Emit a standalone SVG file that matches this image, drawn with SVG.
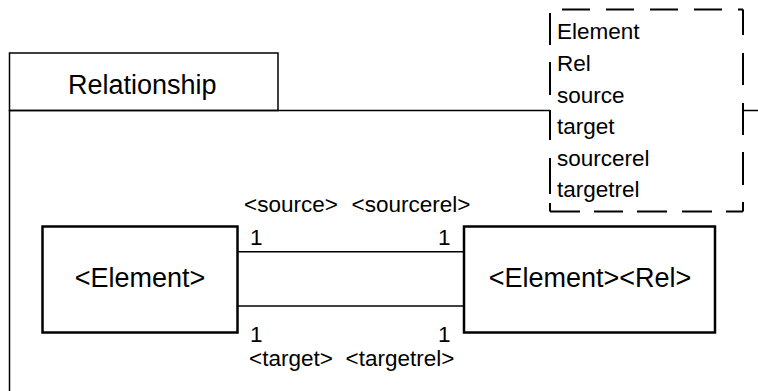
<svg xmlns="http://www.w3.org/2000/svg" width="758" height="391" viewBox="0 0 758 391">
  <style>
    .frame { fill: none; stroke: #000; stroke-width: 1.5; }
    .box { fill: #fff; stroke: #000; stroke-width: 2.5; }
    .conn { fill: none; stroke: #000; stroke-width: 1.5; }
    .dash { fill: none; stroke: #000; stroke-width: 2; }
    text { font-family: "Liberation Sans", Arial, sans-serif; fill: #000; }
    .big { font-size: 27px; }
    .small { font-size: 22.5px; }
  </style>
  <rect width="758" height="391" fill="#fff"/>
  <g id="package">
    <rect class="frame" x="9.5" y="53" width="268.5" height="57.5"/>
    <path class="frame" d="M9.5 400 V110.5 H770"/>
    <text class="big" x="68" y="93.5">Relationship</text>
  </g>
  <g id="legend">
    <rect x="550" y="9.5" width="193" height="202" fill="#fff"/>
    <path class="dash" d="M562 9.5 H743" stroke-dasharray="28 16"/>
    <path class="dash" d="M743 9.5 V211.5" stroke-dasharray="25.5 18 32 18 32 17 33 17 9.5 50"/>
    <path class="dash" d="M550 211.5 H743" stroke-dasharray="30 14 29 14 30 15 30 14 17 50"/>
    <path class="dash" d="M550 13 V211.5" stroke-dasharray="32 17 33 15 30 18 36 9 8.5 50"/>
    <text class="small" x="557" y="39.3">Element</text>
    <text class="small" x="557" y="70.9">Rel</text>
    <text class="small" x="557" y="102.5">source</text>
    <text class="small" x="557" y="134.1">target</text>
    <text class="small" x="557" y="165.7">sourcerel</text>
    <text class="small" x="557" y="197.3">targetrel</text>
  </g>
  <g id="connectors">
    <line class="conn" x1="237.5" y1="251.7" x2="464" y2="251.7"/>
    <line class="conn" x1="237.5" y1="306" x2="464" y2="306"/>
    <text class="small" x="244" y="211.7">&lt;source&gt;</text>
    <text class="small" x="351.5" y="211.7">&lt;sourcerel&gt;</text>
    <text class="small" x="250" y="245">1</text>
    <text class="small" x="438" y="245">1</text>
    <text class="small" x="250" y="342">1</text>
    <text class="small" x="438" y="342">1</text>
    <text class="small" x="249" y="366">&lt;target&gt;</text>
    <text class="small" x="345.5" y="366">&lt;targetrel&gt;</text>
  </g>
  <g id="element">
    <rect class="box" x="42.5" y="226.5" width="195" height="106"/>
    <text class="big" x="140" y="287" text-anchor="middle">&lt;Element&gt;</text>
  </g>
  <g id="element-rel">
    <rect class="box" x="464" y="226.5" width="251" height="106"/>
    <text class="big" x="590" y="287" text-anchor="middle">&lt;Element&gt;&lt;Rel&gt;</text>
  </g>
</svg>
